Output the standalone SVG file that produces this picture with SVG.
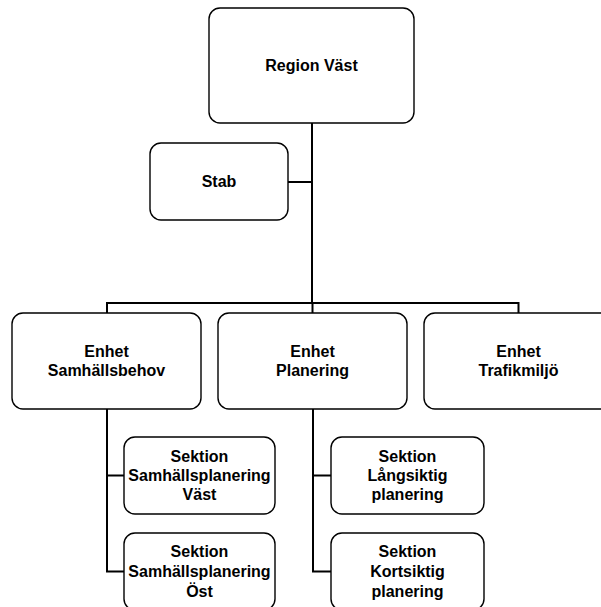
<svg xmlns="http://www.w3.org/2000/svg" width="601" height="607" viewBox="0 0 601 607">
  <style>
    .box { fill: #ffffff; stroke: #000000; stroke-width: 1.4; }
    .lbl { font-family: "Liberation Sans", Arial, sans-serif; font-size: 16px; font-weight: bold; fill: #000000; text-anchor: middle; }
    .wire { fill: none; stroke: #000000; stroke-width: 2; }
  </style>
  <rect width="601" height="607" fill="#ffffff"/>

  <!-- connectors -->
  <g id="connectors">
    <path class="wire" d="M312 123 V303"/>
    <path class="wire" d="M288 182 H312"/>
    <path class="wire" d="M107 313 V303 H518.5 V313"/>
    <path class="wire" d="M312.5 303 V313"/>
    <path class="wire" d="M107 409 V571.5 H124"/>
    <path class="wire" d="M107 475.5 H124"/>
    <path class="wire" d="M313 409 V571.5 H331"/>
    <path class="wire" d="M313 475.5 H331"/>
  </g>

  <g id="region-vast">
    <rect class="box" x="209" y="8" width="205" height="115" rx="11"/>
    <text class="lbl" x="311.5" y="71">Region Väst</text>
  </g>

  <g id="stab">
    <rect class="box" x="150" y="143" width="138" height="77" rx="11"/>
    <text class="lbl" x="219" y="187">Stab</text>
  </g>

  <g id="enhet-samhallsbehov">
    <rect class="box" x="12" y="313" width="189" height="96" rx="11"/>
    <text class="lbl" x="106.5" y="357">Enhet</text>
    <text class="lbl" x="106.5" y="376">Samhällsbehov</text>
  </g>

  <g id="enhet-planering">
    <rect class="box" x="218" y="313" width="189" height="96" rx="11"/>
    <text class="lbl" x="312.5" y="357">Enhet</text>
    <text class="lbl" x="312.5" y="376">Planering</text>
  </g>

  <g id="enhet-trafikmiljo">
    <rect class="box" x="424" y="313" width="189" height="96" rx="11"/>
    <text class="lbl" x="518.5" y="357">Enhet</text>
    <text class="lbl" x="518.5" y="376">Trafikmiljö</text>
  </g>

  <g id="sektion-samhallsplanering-vast">
    <rect class="box" x="124" y="437" width="151" height="77" rx="11"/>
    <text class="lbl" x="199.5" y="462">Sektion</text>
    <text class="lbl" x="199.5" y="481">Samhällsplanering</text>
    <text class="lbl" x="199.5" y="500">Väst</text>
  </g>

  <g id="sektion-samhallsplanering-ost">
    <rect class="box" x="124" y="533" width="151" height="77" rx="11"/>
    <text class="lbl" x="199.5" y="557">Sektion</text>
    <text class="lbl" x="199.5" y="577">Samhällsplanering</text>
    <text class="lbl" x="199.5" y="597">Öst</text>
  </g>

  <g id="sektion-langsiktig-planering">
    <rect class="box" x="331" y="437" width="153" height="77" rx="11"/>
    <text class="lbl" x="407.5" y="462">Sektion</text>
    <text class="lbl" x="407.5" y="481">Långsiktig</text>
    <text class="lbl" x="407.5" y="500">planering</text>
  </g>

  <g id="sektion-kortsiktig-planering">
    <rect class="box" x="331" y="533" width="153" height="77" rx="11"/>
    <text class="lbl" x="407.5" y="557">Sektion</text>
    <text class="lbl" x="407.5" y="577">Kortsiktig</text>
    <text class="lbl" x="407.5" y="597">planering</text>
  </g>
</svg>
